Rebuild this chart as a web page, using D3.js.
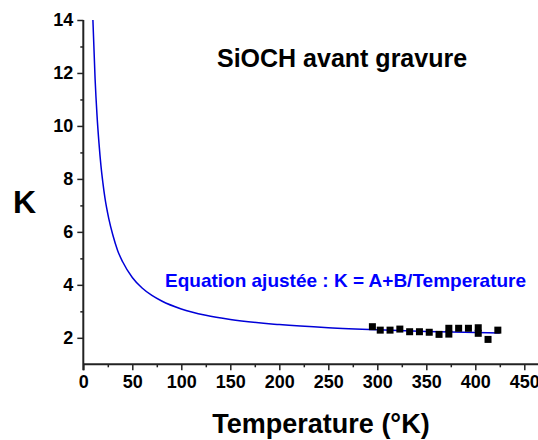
<!DOCTYPE html>
<html>
<head>
<meta charset="utf-8">
<script src="https://cdn.jsdelivr.net/npm/d3@7"></script>
<style>
  html, body { margin: 0; padding: 0; background: #fff; }
  svg { display: block; font-family: "Liberation Sans", Arial, sans-serif; }
</style>
</head>
<body>
<svg id="chart" width="538" height="440"></svg>
<script>
// Measured data points (Temperature in °K, dielectric constant K)
const measTemp = [295, 303, 313, 323, 333, 343, 353, 363, 373, 373, 383, 393, 403, 403, 413, 423];
const measK    = [2.42, 2.29, 2.29, 2.33, 2.23, 2.23, 2.21, 2.13, 2.36, 2.14, 2.36, 2.36, 2.38, 2.17, 1.94, 2.29];

// Fitted curve (K = A + B / Temperature)
const fitTemp = [9.8, 12, 14, 16, 18, 20, 22, 26, 30, 35, 40, 50, 60, 70, 80, 100, 125, 150, 200, 250, 300, 350, 400, 425];
const fitK    = [14, 11.8, 10.4, 9.35, 8.5, 7.85, 7.3, 6.5, 5.9, 5.3, 4.88, 4.28, 3.88, 3.6, 3.39, 3.09, 2.85, 2.69, 2.5, 2.38, 2.3, 2.24, 2.2, 2.18];

const xMajorTicks = [0, 50, 100, 150, 200, 250, 300, 350, 400, 450];
const xMinorTicks = [25, 75, 125, 175, 225, 275, 325, 375, 425];
const yMajorTicks = [2, 4, 6, 8, 10, 12, 14];
const yMinorTicks = [3, 5, 7, 9, 11, 13];

const titleText = "SiOCH avant gravure";
const equationText = "Equation ajustée : K = A+B/Temperature";
const xTitle = "Temperature (°K)";
const yTitle = "K";

const svg = d3.select("#chart");
const W = 538, H = 440;

const x = d3.scaleLinear().domain([0, 450]).range([83.3, 524.3]);
const y = d3.scaleLinear().domain([1, 14]).range([364.3, 20]);

const axisColor = "#222";

// X axis minor ticks
const gx = svg.append("g").attr("transform", `translate(0,${y(1)})`);
gx.call(d3.axisBottom(x).tickValues(xMinorTicks).tickSize(3).tickFormat(""))
  .call(g => g.select(".domain").remove());
gx.selectAll("line").attr("stroke", axisColor).attr("stroke-width", 1.5);

// X axis major ticks
const gx2 = svg.append("g").attr("transform", `translate(0,${y(1)})`);
gx2.call(d3.axisBottom(x).tickValues(xMajorTicks).tickSize(6).tickPadding(5).tickFormat(d3.format("d")))
  .call(g => g.select(".domain").remove());
gx2.selectAll("line").attr("stroke", axisColor).attr("stroke-width", 1.5);
gx2.selectAll("text")
  .attr("fill", "#000")
  .attr("font-size", 18)
  .attr("font-weight", "bold")
  .attr("font-family", "Liberation Sans, Arial, sans-serif");

// Y axis minor ticks
const gy = svg.append("g").attr("transform", `translate(${x(0)},0)`);
gy.call(d3.axisLeft(y).tickValues(yMinorTicks).tickSize(3).tickFormat(""))
  .call(g => g.select(".domain").remove());
gy.selectAll("line").attr("stroke", axisColor).attr("stroke-width", 1.5);

// Y axis major ticks
const gy2 = svg.append("g").attr("transform", `translate(${x(0)},0)`);
gy2.call(d3.axisLeft(y).tickValues(yMajorTicks).tickSize(6).tickPadding(4).tickFormat(d3.format("d")))
  .call(g => g.select(".domain").remove());
gy2.selectAll("line").attr("stroke", axisColor).attr("stroke-width", 1.5);
gy2.selectAll("text")
  .attr("fill", "#000")
  .attr("font-size", 18)
  .attr("font-weight", "bold")
  .attr("font-family", "Liberation Sans, Arial, sans-serif");

// Axis lines
svg.append("line")
  .attr("x1", x(0)).attr("x2", W)
  .attr("y1", y(1)).attr("y2", y(1))
  .attr("stroke", axisColor).attr("stroke-width", 2);
svg.append("line")
  .attr("x1", x(0)).attr("x2", x(0))
  .attr("y1", y(14)).attr("y2", y(1) + 6)
  .attr("stroke", axisColor).attr("stroke-width", 2);

// Fit curve
const fitData = fitTemp.map((t, i) => ({ t, k: fitK[i] }));
const line = d3.line().x(d => x(d.t)).y(d => y(d.k)).curve(d3.curveMonotoneX);
svg.append("path")
  .datum(fitData)
  .attr("d", line)
  .attr("fill", "none")
  .attr("stroke", "#0000d8")
  .attr("stroke-width", 1.5);

// Data points (squares)
const pts = measTemp.map((t, i) => ({ t, k: measK[i] }));
const sq = 7;
svg.append("g").selectAll("rect")
  .data(pts)
  .join("rect")
  .attr("x", d => x(d.t) - sq / 2)
  .attr("y", d => y(d.k) - sq / 2)
  .attr("width", sq)
  .attr("height", sq)
  .attr("fill", "#000");

// Texts
svg.append("text")
  .attr("x", 217).attr("y", 67)
  .attr("font-size", 25).attr("font-weight", "bold")
  .attr("fill", "#000")
  .text(titleText);

svg.append("text")
  .attr("x", 165).attr("y", 286.5)
  .attr("font-size", 19).attr("font-weight", "bold")
  .attr("fill", "#0000ff")
  .text(equationText);

svg.append("text")
  .attr("x", 321).attr("y", 433)
  .attr("text-anchor", "middle")
  .attr("font-size", 27).attr("font-weight", "bold")
  .attr("fill", "#000")
  .text(xTitle);

svg.append("text")
  .attr("x", 13).attr("y", 213)
  .attr("font-size", 32).attr("font-weight", "bold")
  .attr("fill", "#000")
  .text(yTitle);
</script>
</body>
</html>
